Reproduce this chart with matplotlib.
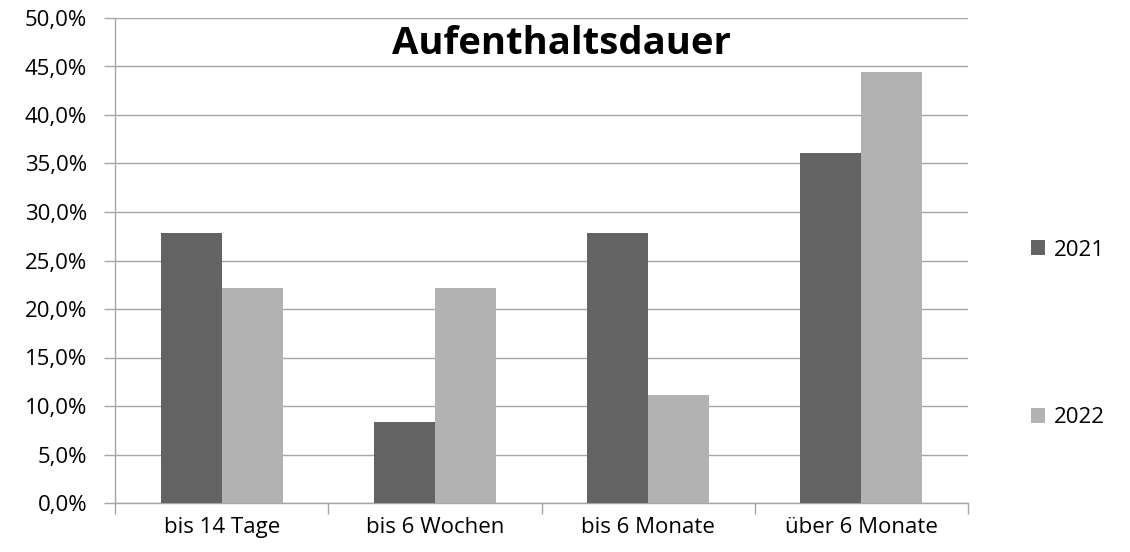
import matplotlib
matplotlib.use("Agg")
import matplotlib.pyplot as plt
import numpy as np
from matplotlib.ticker import FuncFormatter, FixedLocator

categories = ["bis 14 Tage", "bis 6 Wochen", "bis 6 Monate", "über 6 Monate"]
series_names = ["2021", "2022"]
values_2021 = [27.8, 8.3, 27.8, 36.1]
values_2022 = [22.2, 22.2, 11.1, 44.4]
title = "Aufenthaltsdauer"

plt.rcParams['font.family'] = ['Open Sans', 'DejaVu Sans']

fig = plt.figure(figsize=(11.30, 5.52), dpi=100)
ax = fig.add_axes([115/1130, 1-503/552, (968-115)/1130, (503-18)/552])

x = np.arange(len(categories))
w = 1/3.5
ax.bar(x - w/2, values_2021, width=w, color="#636363", label=series_names[0], zorder=3)
ax.bar(x + w/2, values_2022, width=w, color="#b2b2b2", label=series_names[1], zorder=3)

ax.set_xlim(-0.5, len(categories)-0.5)
ax.set_ylim(0, 50)
ax.set_yticks(np.arange(0, 50.1, 5))
ax.yaxis.set_major_formatter(FuncFormatter(lambda v, p: f"{v:.1f}%".replace('.', ',')))
ax.yaxis.grid(True, color="#a6a6a6", linewidth=1.0, zorder=0)
ax.set_axisbelow(True)

ax.set_xticks(x)
ax.set_xticklabels(categories)
ax.tick_params(axis='x', which='major', length=0, pad=10, labelsize=16)
ax.xaxis.set_minor_locator(FixedLocator(np.arange(-0.5, len(categories), 1)))
ax.tick_params(axis='x', which='minor', length=8, color="#a6a6a6", width=1)
ax.tick_params(axis='y', length=8, color="#a6a6a6", width=1, labelsize=16, pad=12)

for s in ['top', 'right']:
    ax.spines[s].set_visible(False)
for s in ['left', 'bottom']:
    ax.spines[s].set_color("#a6a6a6")
    ax.spines[s].set_linewidth(1)

fig.text(561/1130, 1-44/552, title, ha='center', va='center',
         fontsize=27.5, fontweight='bold')

fig.legend(loc='center left', bbox_to_anchor=(1011/1130, 1-334/552), frameon=False,
           fontsize=16, labelspacing=6.6, handlelength=0.65, handleheight=0.65,
           handletextpad=0.4)

fig.savefig("out.png", dpi=100)
